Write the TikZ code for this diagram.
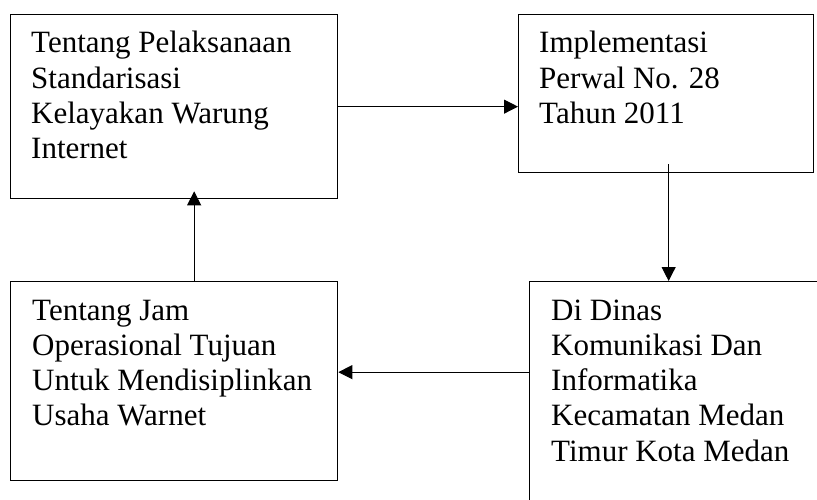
\documentclass[tikz,border=0pt]{standalone}
\usepackage{fontspec}
\setmainfont{Liberation Serif}
\usepackage{tikz}
\usetikzlibrary{arrows.meta}

\begin{document}
\begin{tikzpicture}[
  x=1pt, y=-1pt,
  box/.style={draw, line width=1.3pt, anchor=north west, inner sep=0pt},
  txt/.style={align=left, anchor=base west, inner sep=0pt, font=\fontsize{31pt}{35.3pt}\selectfont},
  arr/.style={-{Triangle[length=14pt,width=14pt]}, line width=1pt}
]
\useasboundingbox (0,0) rectangle (817,500);
\clip (0,0) rectangle (817,500);

\node[box, minimum width=327pt, minimum height=184pt] (a1) at (10,14) {};
\node[box, minimum width=295pt, minimum height=158pt] (a2) at (518,14) {};
\node[box, minimum width=327pt, minimum height=199pt] (b1) at (10,281) {};
\node[box, minimum width=300pt, minimum height=240pt] (b2) at (529,281) {};

% base anchor sits on the last line: 39pt to the first baseline, 35.3pt per line
\node[txt] (t1) at ([shift={(21pt,-144.9pt)}]a1.north west) {Tentang Pelaksanaan\\Standarisasi\\Kelayakan Warung\\Internet};
\node[txt] (t2) at ([shift={(21pt,-109.6pt)}]a2.north west) {Implementasi\\Perwal No. 28\\Tahun 2011};
\node[txt] (t3) at ([shift={(22pt,-144.9pt)}]b1.north west) {Tentang Jam\\Operasional Tujuan\\Untuk Mendisiplinkan\\Usaha Warnet};
\node[txt] (t4) at ([shift={(22pt,-180.2pt)}]b2.north west) {Di Dinas\\Komunikasi Dan\\Informatika\\Kecamatan Medan\\Timur Kota Medan};

\coordinate (c1) at ([yshift=9pt]b1.east);
\draw[arr] (a1.east) -- (a1.east -| a2.west);
\draw[arr] ([shift={(2.5pt,9pt)}]a2.south) -- ([xshift=2.5pt]a2.south |- b2.north);
\draw[arr] ([xshift=20pt]b1.north) -- ([shift={(20pt,8pt)}]a1.south);
\draw[arr] (c1 -| b2.west) -- (c1);
\end{tikzpicture}
\end{document}
